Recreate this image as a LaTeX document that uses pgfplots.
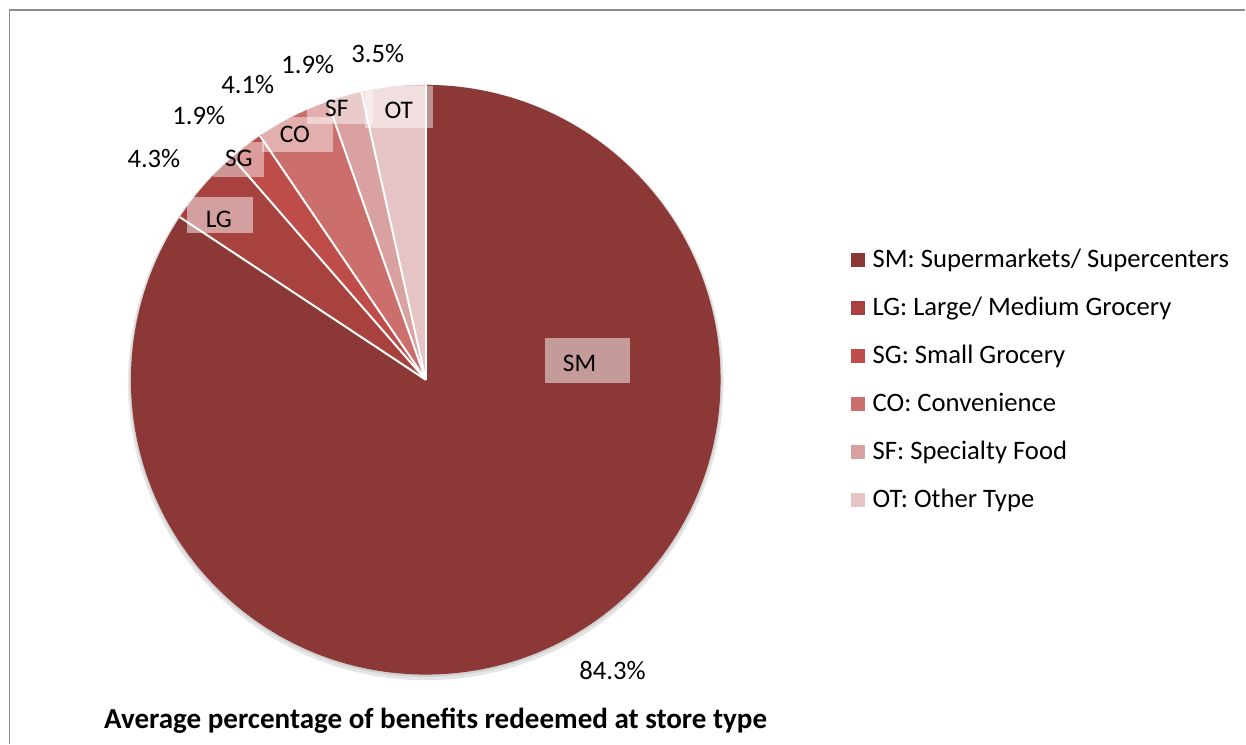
\documentclass[border=0pt]{standalone}
\usepackage{pgfplots}
\pgfplotsset{compat=1.18}
\usepackage{fontspec}
\setmainfont{Carlito}
\definecolor{cSM}{HTML}{8C3836}
\definecolor{cLG}{HTML}{A7423F}
\definecolor{cSG}{HTML}{BE4C49}
\definecolor{cCO}{HTML}{CB6E6C}
\definecolor{cSF}{HTML}{D9A2A1}
\definecolor{cOT}{HTML}{E6C4C5}
\begin{document}
\begin{tikzpicture}
\begin{axis}[at={(0,0)}, anchor=south west, scale only axis,
  width=934.5pt, height=558pt, xmin=0, xmax=1246, ymin=0, ymax=744,
  y dir=reverse, hide axis, clip=false]
\pgfplotsextra{
  \def\R{221.25pt}
  \coordinate (C) at (axis cs:426,380);
  % frame
  \draw[gray!90, line width=1.2pt] (axis cs:9.5,744) -- (axis cs:9.5,10) -- (axis cs:1246,10);
  % soft shadow
  \fill[black!10] ([yshift=-2pt]C) circle[radius=223.5pt];
  \fill[black!18] ([yshift=-1pt]C) circle[radius=222pt];
  % slices: value / colour
  \xdef\cur{90}
  \foreach \v/\c in {84.3/cSM,4.3/cLG,1.9/cSG,4.1/cCO,1.9/cSF,3.5/cOT}{
    \pgfmathsetmacro\nxt{\cur-3.6*\v}
    \fill[\c] (C) -- ++(\cur:\R) arc[start angle=\cur, end angle=\nxt, radius=\R] -- cycle;
    \xdef\cur{\nxt}
  }
  % label boxes
  \fill[white, opacity=0.5] (axis cs:545,338) rectangle (axis cs:630,383);
  \fill[white, opacity=0.5] (axis cs:187,197) rectangle (axis cs:253,233);
  \fill[white, opacity=0.45] (axis cs:213,142) rectangle (axis cs:264,177);
  \fill[white, opacity=0.45] (axis cs:262,117) rectangle (axis cs:333,152);
  \fill[white, opacity=0.45] (axis cs:307,90) rectangle (axis cs:373,124);
  \fill[white, opacity=0.45] (axis cs:365,86) rectangle (axis cs:433,128);
  % white separators
  \xdef\cur{90}
  \foreach \v in {84.3,4.3,1.9,4.1,1.9,3.5}{
    \pgfmathsetmacro\nxt{\cur-3.6*\v}
    \draw[white, line width=1.5pt] (C) -- ++(\cur:\R);
    \xdef\cur{\nxt}
  }
  % labels inside slices
  \foreach \x/\y/\t in {580/372/SM,219/228/LG,239/167/SG,295/143/CO,337/117/SF,399/119/OT}{
    \node[anchor=base, inner sep=0pt, font=\fontsize{19}{22}\selectfont] at (axis cs:\x,\y) {\t};
  }
  % percentages outside
  \foreach \x/\y/\t in {613/680/84.3,154/168/4.3,199/125/1.9,248/94/4.1,308/74/1.9,378/63/3.5}{
    \node[anchor=base, inner sep=0pt, font=\fontsize{20}{22}\selectfont] at (axis cs:\x,\y) {\t\%};
  }
  % legend
  \foreach \y/\c/\t in {268/cSM/{SM: Supermarkets/ Supercenters},
                        316/cLG/{LG: Large/ Medium Grocery},
                        364/cSG/{SG: Small Grocery},
                        412/cCO/{CO: Convenience},
                        460/cSF/{SF: Specialty Food},
                        508/cOT/{OT: Other Type}}{
    \fill[\c] (axis cs:852,\y-15) rectangle (axis cs:866,\y-1);
    \node[anchor=base west, inner sep=0pt, font=\fontsize{20}{22}\selectfont] at (axis cs:873,\y) {\t};
  }
  % title
  \node[anchor=base, inner sep=0pt, font=\fontsize{21.8}{26}\selectfont\bfseries] at (axis cs:436,729) {Average percentage of benefits redeemed at store type};
}
\end{axis}
\path[use as bounding box] (0,0) rectangle (934.5pt,558pt);
\end{tikzpicture}
\end{document}
